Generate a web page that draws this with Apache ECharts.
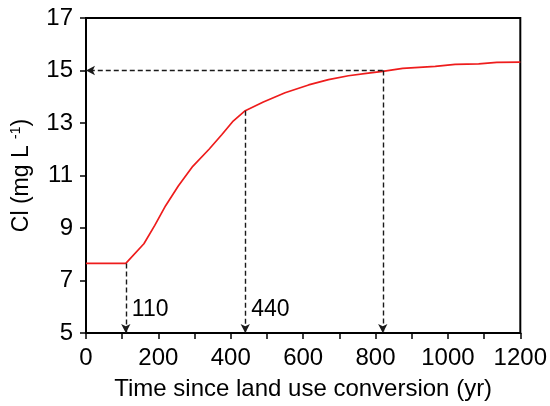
<!DOCTYPE html>
<html>
<head>
<meta charset="utf-8">
<script src="https://cdn.jsdelivr.net/npm/echarts@6/dist/echarts.min.js"></script>
<style>
  html, body { margin: 0; padding: 0; background: #fff; }
  #chart { width: 550px; height: 406px; }
</style>
</head>
<body>
<div id="chart"></div>
<script>
// curve: time (yr) vs Cl (mg/L)
const years = [0, 110, 160, 190, 220, 255, 295, 340, 375, 405, 440, 490, 550, 615, 670, 725, 780, 820, 875, 965, 1020, 1085, 1135, 1200];
const chloride = [7.65, 7.65, 8.4, 9.1, 9.85, 10.6, 11.35, 12.0, 12.55, 13.05, 13.47, 13.8, 14.15, 14.45, 14.65, 14.8, 14.9, 14.97, 15.08, 15.16, 15.23, 15.25, 15.31, 15.32];

// dashed guide lines
const guideX = [110, 440, 820];
const guideTop = [7.65, 13.47, 15];
const labelledGuides = [110, 440];
const labelY = 5.88;

const font = "'Liberation Sans', Arial, sans-serif";

let chart = echarts.init(document.getElementById('chart'), null, { renderer: 'canvas' });

let guideLines = [];
for (let i = 0; i < guideX.length; i++) {
    guideLines.push([
        { coord: [guideX[i], guideTop[i]] },
        { coord: [guideX[i], 5] }
    ]);
}
// horizontal arrow back to the y axis at the last guide
guideLines.push([
    { coord: [guideX[2], guideTop[2]] },
    { coord: [0, guideTop[2]] }
]);

let option = {
    animation: false,
    textStyle: { fontFamily: font },
    grid: {
        left: 86, right: 29, top: 18, bottom: 72,
        show: true,
        borderColor: '#000',
        borderWidth: 2
    },
    xAxis: {
        type: 'value',
        min: 0, max: 1200, interval: 200,
        name: 'Time since land use conversion (yr)',
        nameLocation: 'middle',
        nameGap: 44,
        nameTextStyle: { fontSize: 24, color: '#000', fontFamily: font },
        axisLine: { lineStyle: { color: '#000', width: 2 } },
        axisTick: { length: 6, lineStyle: { color: '#000', width: 1.5 } },
        minorTick: { show: true, splitNumber: 2, length: 6, lineStyle: { color: '#000', width: 1.5 } },
        axisLabel: {
            fontSize: 24, color: '#000', margin: 13, fontFamily: font,
            formatter: function (v) { return String(v); }
        },
        splitLine: { show: false }
    },
    yAxis: {
        type: 'value',
        min: 5, max: 17, interval: 2,
        name: 'Cl (mg L {sup|-1})',
        nameLocation: 'middle',
        nameGap: 52,
        nameTextStyle: {
            fontSize: 23, color: '#000', fontFamily: font,
            rich: {
                sup: { fontSize: 14, color: '#000', fontFamily: font, verticalAlign: 'top', padding: [0, 0, 11, 0] }
            }
        },
        axisLine: { lineStyle: { color: '#000', width: 2 } },
        axisTick: { length: 6, lineStyle: { color: '#000', width: 1.5 } },
        axisLabel: { fontSize: 24, color: '#000', margin: 13, fontFamily: font },
        splitLine: { show: false }
    },
    series: [
        {
            name: 'Cl',
            type: 'line',
            data: years.map(function (t, i) { return [t, chloride[i]]; }),
            showSymbol: false,
            lineStyle: { color: '#ee1c1c', width: 1.7 },
            markLine: {
                silent: true,
                symbol: ['none', 'arrow'],
                symbolSize: [7, 9],
                label: { show: false },
                lineStyle: { color: '#1a1a1a', type: [5, 3], width: 1.4 },
                data: guideLines
            }
        },
        {
            name: 'labels',
            type: 'scatter',
            silent: true,
            symbolSize: 0,
            itemStyle: { opacity: 1 },
            data: labelledGuides.map(function (t) { return [t, labelY]; }),
            label: {
                show: true,
                position: 'right',
                distance: 6,
                fontSize: 23,
                color: '#000',
                fontFamily: font,
                formatter: function (p) { return String(p.value[0]); }
            }
        }
    ]
};

chart.setOption(option);
</script>
</body>
</html>
